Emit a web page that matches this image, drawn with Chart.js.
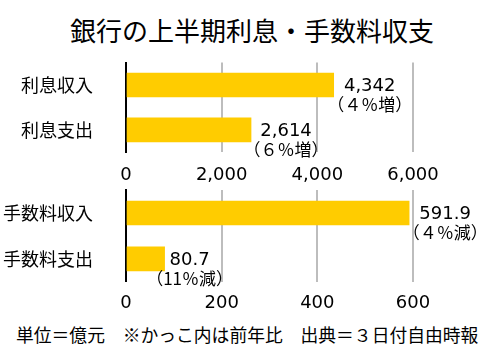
<!DOCTYPE html>
<html><head><meta charset="utf-8">
<script src="https://cdn.jsdelivr.net/npm/chart.js@4/dist/chart.umd.min.js"></script>
<style>
html,body{margin:0;padding:0;background:#fff;}
#wrap{position:relative;width:504px;height:351px;overflow:hidden;font-family:"Noto Sans CJK JP",sans-serif;color:#000;}
#title{position:absolute;left:0;width:504px;top:17px;text-align:center;font-size:26px;line-height:26px;white-space:nowrap;}
#foot{position:absolute;left:16px;top:325px;font-size:17.8px;line-height:18px;white-space:nowrap;}
canvas{position:absolute;left:0;}
#c1{top:50px;}
#c2{top:188px;}
</style></head>
<body><div id="wrap">
<div id="title">銀行の上半期利息・手数料収支</div>
<canvas id="c1" width="504" height="138"></canvas>
<canvas id="c2" width="504" height="128"></canvas>
<div id="foot">単位＝億元　※かっこ内は前年比　出典＝３日付自由時報</div>
</div>
<script>
const categoriesTop = ['利息収入', '利息支出'];
const valuesTop = [4342, 2614];
const changeTop = ['（４％増）', '（６％増）'];
const ticksTop = [0, 2000, 4000, 6000];

const categoriesBottom = ['手数料収入', '手数料支出'];
const valuesBottom = [591.9, 80.7];
const changeBottom = ['（４％減）', '（11％減）'];
const ticksBottom = [0, 200, 400, 600];

const NUMFONT = '"DejaVu Sans", "Noto Sans CJK JP"';
const CJK = '"Noto Sans CJK JP"';

const labelPlugin = {
  id: 'barLabels',
  afterDatasetsDraw(chart, args, opts) {
    const ctx = chart.ctx;
    const meta = chart.getDatasetMeta(0);
    ctx.save();
    ctx.fillStyle = '#000';
    ctx.textAlign = 'center';
    ctx.textBaseline = 'middle';
    meta.data.forEach((bar, i) => {
      const v = chart.data.datasets[0].data[i];
      const x = bar.x + opts.dx[i];
      ctx.font = '18px ' + NUMFONT;
      ctx.fillText(v.toLocaleString('en-US', {minimumFractionDigits: opts.decimals, maximumFractionDigits: opts.decimals}), x, bar.y + 1);
      ctx.font = '17px ' + CJK;
      ctx.fillText(opts.change[i], x, bar.y + 19.5);
    });
    ctx.restore();
  }
};

function makeChart(id, cats, vals, ticks, change, decimals, dx, padTop, padBottom, tickPad) {
  return new Chart(document.getElementById(id), {
    type: 'bar',
    data: { labels: cats, datasets: [{ data: vals, backgroundColor: '#ffcc00', borderWidth: 0, barThickness: 24 }] },
    plugins: [labelPlugin],
    options: {
      indexAxis: 'y',
      responsive: false,
      animation: false,
      devicePixelRatio: 1,
      layout: { padding: { left: 0, right: 91, top: padTop, bottom: padBottom } },
      plugins: {
        legend: { display: false },
        tooltip: { enabled: false },
        barLabels: { change: change, decimals: decimals, dx: dx }
      },
      scales: {
        x: {
          min: ticks[0], max: ticks[ticks.length - 1],
          afterFit: s => { s.paddingLeft = 0; s.paddingRight = 0; s.height = tickPad + 21.6; },
          ticks: { stepSize: ticks[1] - ticks[0], padding: tickPad, color: '#000', font: { family: NUMFONT, size: 18 }, maxRotation: 0,
                   autoSkip: false, callback: v => v.toLocaleString('en-US') },
          grid: { drawTicks: false, lineWidth: 2, color: c => (c.tick && c.tick.value === 0) ? 'rgba(0,0,0,0)' : '#bdbdbd' },
          border: { display: false }
        },
        y: {
          afterFit: s => { s.width = 126; s.paddingTop = 0; s.paddingBottom = 0; },
          ticks: { padding: 33, autoSkip: false, color: '#000', font: { family: CJK, size: 18 } },
          grid: { display: false, drawTicks: false },
          border: { display: true, color: '#000', width: 2 }
        }
      }
    }
  });
}

makeChart('c1', categoriesTop, valuesTop, ticksTop, changeTop, 0, [36, 35], 12.5, 2, 12);
makeChart('c2', categoriesBottom, valuesBottom, ticksBottom, changeBottom, 1, [36, 25], 2, 1.5, 11);
</script>
</body></html>
